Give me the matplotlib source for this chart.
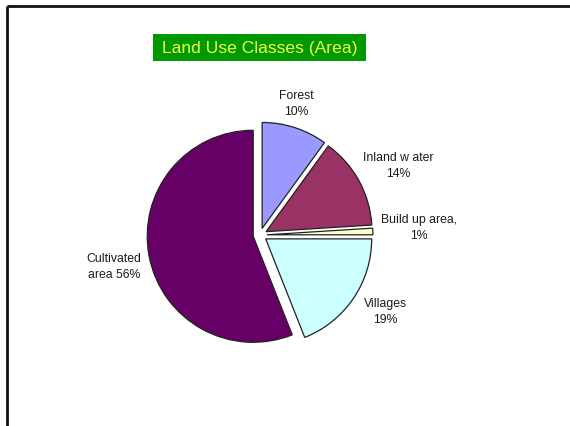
import matplotlib
matplotlib.use("Agg")
import matplotlib.pyplot as plt
from matplotlib.patches import Rectangle

plt.rcParams['font.family'] = ['Liberation Sans', 'DejaVu Sans']

# Land use shares (percent)
classes = ["Forest", "Inland w ater", "Build up area,", "Villages", "Cultivated\narea"]
shares = [10, 14, 1, 19, 56]
colors = ["#9999FF", "#993366", "#FFFFCC", "#CCFFFF", "#660066"]
label_text = ["Forest\n10%", "Inland w ater\n14%", "Build up area,\n1%",
              "Villages\n19%", "Cultivated\narea 56%"]
# label anchor points in figure pixel space (x, y from top)
label_pos = [(296, 104), (398, 166), (419, 228), (385, 312), (114, 267)]

W, H = 570, 427
fig = plt.figure(figsize=(W / 100, H / 100), dpi=100)
ax = fig.add_axes([0, 0, 1, 1])

cx, cy, r = 260, H - 236, 106
ax.pie(shares, colors=colors, startangle=90, counterclock=False,
       explode=[0.065 * r] * len(shares), radius=r, center=(cx, cy),
       wedgeprops=dict(edgecolor="#222222", linewidth=0.9), frame=True)
ax.set_xlim(0, W)
ax.set_ylim(0, H)
ax.set_aspect('equal')
ax.axis('off')

for txt, (lx, ly) in zip(label_text, label_pos):
    ax.text(lx, H - ly, txt, ha='center', va='center', fontsize=8.8,
            color="#1a1a1a", linespacing=1.35)

# Title banner
ax.add_patch(Rectangle((153, H - 62), 213, 27, facecolor="#009900",
                       edgecolor="none", zorder=3))
ax.text(259.5, H - 48.5, "Land Use Classes (Area)", ha='center', va='center',
        fontsize=12.6, color="#EEFF44", zorder=4)

# Frame lines along top and left
ax.plot([7, 7], [0, H - 7], color="#111111", lw=2, solid_capstyle='butt')
ax.plot([7, W], [H - 7, H - 7], color="#111111", lw=2, solid_capstyle='butt')

fig.savefig("out.png", dpi=100)
